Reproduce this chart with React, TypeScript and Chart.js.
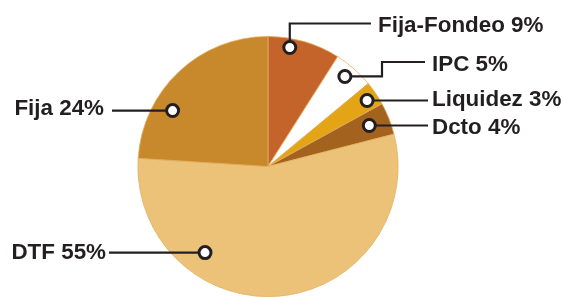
import React, { useEffect, useRef } from 'react';
import { Chart, registerables } from 'chart.js';

Chart.register(...registerables);

// ---- data ----
const categories = ['Fija-Fondeo', 'IPC', 'Liquidez', 'Dcto', 'DTF', 'Fija'];
const shares = [9, 5, 3, 4, 55, 24];
const sliceColors = ['#C4642A', '#FFFFFF', '#E3A515', '#A3631F', '#ECC278', '#C8892C'];

// ---- label layout (annotation placement, not data) ----
// t: fraction along slice angle, f: fraction of radius for the marker
// path: leader steps from marker ('h' -> go horizontally to x, 'v' -> go vertically to y)
type Step = [string, number];
const labelLayout: { t: number; f: number; path: Step[]; tx: number; ty: number; align: CanvasTextAlign }[] = [
  { t: 0.32, f: 0.93, path: [['v', 23.5], ['h', 371]], tx: 378, ty: 31.5, align: 'left' },
  { t: 0.45, f: 0.91, path: [['h', 382], ['v', 62], ['h', 425]], tx: 432, ty: 71, align: 'left' },
  { t: 0.55, f: 0.915, path: [['h', 428]], tx: 432, ty: 106, align: 'left' },
  { t: 0.47, f: 0.84, path: [['h', 428]], tx: 432, ty: 133.5, align: 'left' },
  { t: 0.71, f: 0.82, path: [['h', 109]], tx: 106, ty: 258.5, align: 'right' },
  { t: 0.31, f: 0.85, path: [['h', 112]], tx: 104, ty: 114.5, align: 'right' },
];

const INK = '#231F20';

const labelPlugin = {
  id: 'leaderLabels',
  afterDatasetsDraw(chart: any) {
    const ctx: CanvasRenderingContext2D = chart.ctx;
    const meta = chart.getDatasetMeta(0);
    ctx.save();
    meta.data.forEach((arc: any, i: number) => {
      const lay = labelLayout[i];
      const { x, y, startAngle, endAngle, outerRadius } = arc.getProps(
        ['x', 'y', 'startAngle', 'endAngle', 'outerRadius'],
        true
      );
      const a = startAngle + lay.t * (endAngle - startAngle);
      const mx = x + Math.cos(a) * lay.f * outerRadius;
      const my = y + Math.sin(a) * lay.f * outerRadius;
      // leader
      ctx.beginPath();
      ctx.moveTo(mx, my);
      let cx = mx;
      let cy = my;
      lay.path.forEach(([d, v]) => {
        if (d === 'h') cx = v;
        else cy = v;
        ctx.lineTo(cx, cy);
      });
      ctx.strokeStyle = INK;
      ctx.lineWidth = 2.2;
      ctx.lineJoin = 'miter';
      ctx.stroke();
      // marker
      ctx.beginPath();
      ctx.arc(mx, my, 6, 0, Math.PI * 2);
      ctx.fillStyle = '#FFFFFF';
      ctx.fill();
      ctx.lineWidth = 3;
      ctx.strokeStyle = INK;
      ctx.stroke();
      // text
      ctx.font = 'bold 22.4px "Liberation Sans", Arial, sans-serif';
      ctx.fillStyle = INK;
      ctx.textAlign = lay.align;
      ctx.textBaseline = 'alphabetic';
      ctx.fillText(`${categories[i]} ${shares[i]}%`, lay.tx, lay.ty);
    });
    ctx.restore();
  },
};

export default function App() {
  const ref = useRef<HTMLCanvasElement>(null);
  useEffect(() => {
    if (!ref.current) return;
    const chart = new Chart(ref.current, {
      type: 'pie',
      data: {
        labels: categories,
        datasets: [
          {
            data: shares,
            backgroundColor: sliceColors,
            borderColor: '#E2B061',
            borderWidth: 0.8,
          },
        ],
      },
      options: {
        animation: false,
        responsive: true,
        maintainAspectRatio: false,
        layout: { padding: { left: 137, right: 164, top: 36, bottom: 0 } },
        plugins: {
          legend: { display: false },
          tooltip: { enabled: false },
        },
      },
      plugins: [labelPlugin],
    });
    return () => chart.destroy();
  }, []);
  return (
    <div style={{ position: 'fixed', left: 0, top: 0, width: 563, height: 297, background: '#fff' }}>
      <canvas ref={ref} />
    </div>
  );
}
